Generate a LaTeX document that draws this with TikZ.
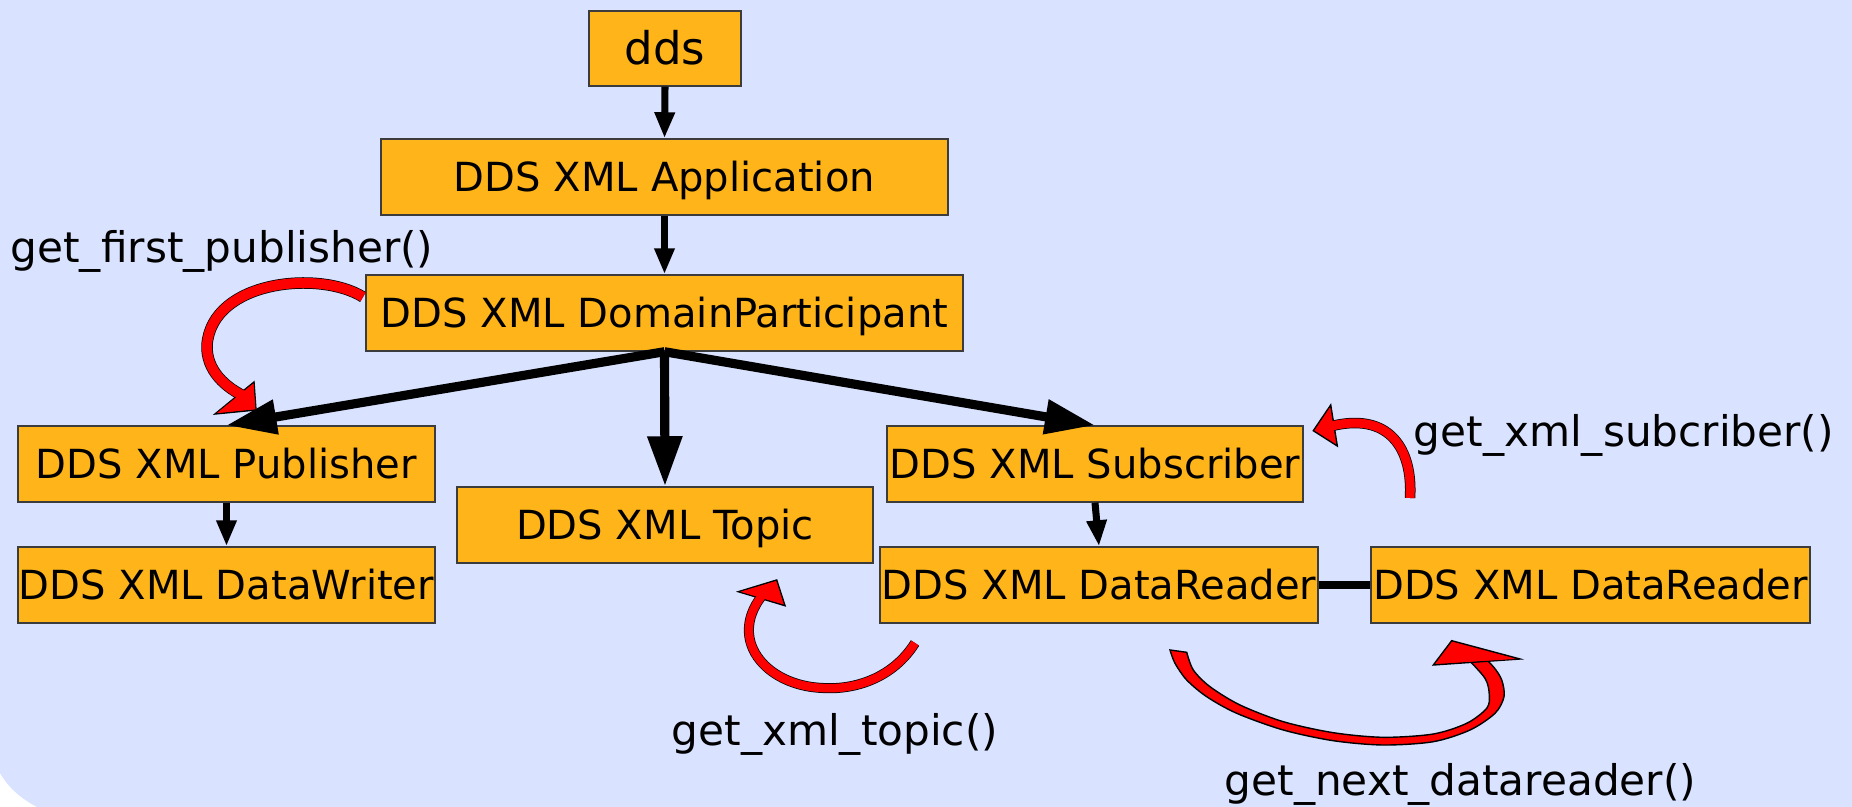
\documentclass[tikz,border=0pt]{standalone}
\usepackage{fontspec}
\setmainfont{DejaVu Sans}
\usetikzlibrary{arrows.meta}
\definecolor{bgblue}{RGB}{217,226,255}
\definecolor{boxorange}{RGB}{255,181,25}
\definecolor{boxline}{RGB}{60,60,60}
\begin{document}
\begin{tikzpicture}[x=0.01cm,y=-0.01cm,
  box/.style={draw=boxline, line width=0.4pt, fill=boxorange, inner sep=0pt,
    text height=0.29cm, text depth=0pt, minimum height=0.76cm,
    font=\fontsize{11.4}{13}\selectfont},
  lbl/.style={inner sep=0pt, anchor=base west, font=\fontsize{12}{14}\selectfont},
  conn/.style={line width=2pt, -{Triangle[length=0.26cm,width=0.19cm]}},
  bigconn/.style={line width=2.6pt, -{Triangle[length=0.5cm,width=0.33cm]}},
  headout/.style={draw=black, fill=red, line width=0.4pt, line join=miter},
]
% background
\fill[white] (0,0) rectangle (1852,807);
\fill[bgblue] (0,0) -- (1852,0) -- (1852,807) -- (37,807)
  .. controls (20,798) and (8,787) .. (0,773) -- cycle;
\useasboundingbox (0,0) rectangle (1852,807);

% boxes
\node[box, minimum width=1.52cm, minimum height=0.75cm, text height=0.33cm,
  font=\fontsize{12.8}{15}\selectfont] (dds) at (665,48.5) {dds};
\node[box, minimum width=5.67cm] (app) at (664.5,177) {DDS XML Application};
\node[box, minimum width=5.97cm] (dp) at (664.5,313) {DDS XML DomainParticipant};
\node[box, minimum width=4.17cm] (pub) at (226.5,464) {DDS XML Publisher};
\node[box, minimum width=4.17cm] (dw) at (226.5,585) {DDS XML DataWriter};
\node[box, minimum width=4.16cm] (topic) at (665,525) {DDS XML Topic};
\node[box, minimum width=4.16cm] (sub) at (1095,464) {DDS XML Subscriber};
\node[box, minimum width=4.38cm] (dr1) at (1099,585) {DDS XML DataReader};
\node[box, minimum width=4.39cm] (dr2) at (1590.5,585) {DDS XML DataReader};

% connectors
\draw[conn] (dds.south) -- (app.north);
\draw[conn] (app.south) -- (dp.north);
\draw[bigconn] (dp.south) -- (pub.north);
\draw[bigconn] (dp.south) -- (topic.north);
\draw[bigconn] (dp.south) -- (sub.north);
\draw[conn] (pub.south) -- (dw.north);
\draw[conn] (sub.south) -- (dr1.north);
\draw[line width=2.3pt] (dr1.east) -- (dr2.west);

% labels
\node[lbl] (l1) at (10,263) {get\_first\_publisher()};
\node[lbl] (l2) at (1413,447) {get\_xml\_subcriber()};
\node[lbl] (l3) at (671,745) {get\_xml\_topic()};
\node[lbl] (l4) at (1224,795) {get\_next\_datareader()};

% red arrow: get_first_publisher
\draw[line width=3.27pt] (363,297) .. controls (320,270) and (212,280) .. (207,345)
  .. controls (206,370) and (225,388) .. (248,398);
\path[headout] (215,414) -- (254,382) -- (256,410) -- cycle;
\draw[red, line width=2.85pt] (363,297) .. controls (320,270) and (212,280) .. (207,345)
  .. controls (206,370) and (225,388) .. (248,398);
\fill[red] (217,413) -- (253.5,383.5) -- (255.3,409) -- cycle;

% red arrow: get_xml_topic
\draw[line width=2.85pt] (915,643) .. controls (893,678) and (855,690) .. (823,688)
  .. controls (765,686) and (725,638) .. (765,592);
\path[headout] (738.3,591.7) -- (776.7,580) -- (785,605.7) -- cycle;
\draw[red, line width=2.42pt] (915,643) .. controls (893,678) and (855,690) .. (823,688)
  .. controls (765,686) and (725,638) .. (765,592);
\fill[red] (740.5,591.7) -- (776,581.3) -- (783.5,604.3) -- cycle;

% red arrow: get_xml_subcriber
\draw[line width=2.99pt] (1410,498) .. controls (1413,450) and (1390,410) .. (1328,427);
\path[headout] (1313.3,430.7) -- (1330.7,405) -- (1337.3,446) -- cycle;
\draw[red, line width=2.56pt] (1410,498) .. controls (1413,450) and (1390,410) .. (1328,427);
\fill[red] (1315.3,430.5) -- (1329.8,408) -- (1335.5,443.5) -- cycle;

% red arrow: get_next_datareader (tapered)
\path[draw=black, fill=red, line width=0.4pt]
  plot[smooth] coordinates {(1170,650) (1175,663.3) (1186.7,680) (1206.7,696.7)
    (1236.7,713.3) (1283.3,730) (1333.3,740.7) (1383.3,745) (1433.3,741.7)
    (1470,730) (1495,713.3) (1504,696.7) (1501.7,680) (1493.3,666.7) (1478,652)}
  -- plot[smooth] coordinates {(1464,655) (1485,678.3) (1489.3,695) (1486.7,708.3)
    (1466.7,723.3) (1433.3,734) (1383.3,737.3) (1333.3,732.7) (1283.3,721.7)
    (1240,705) (1210,686.7) (1193.3,670) (1186.7,652.3)}
  -- cycle;
\path[headout] (1451.7,640.7) -- (1433.3,665) -- (1520,659) -- cycle;
\fill[red] (1452,643) -- (1436,663.5) -- (1516,659) -- cycle;
\end{tikzpicture}
\end{document}
